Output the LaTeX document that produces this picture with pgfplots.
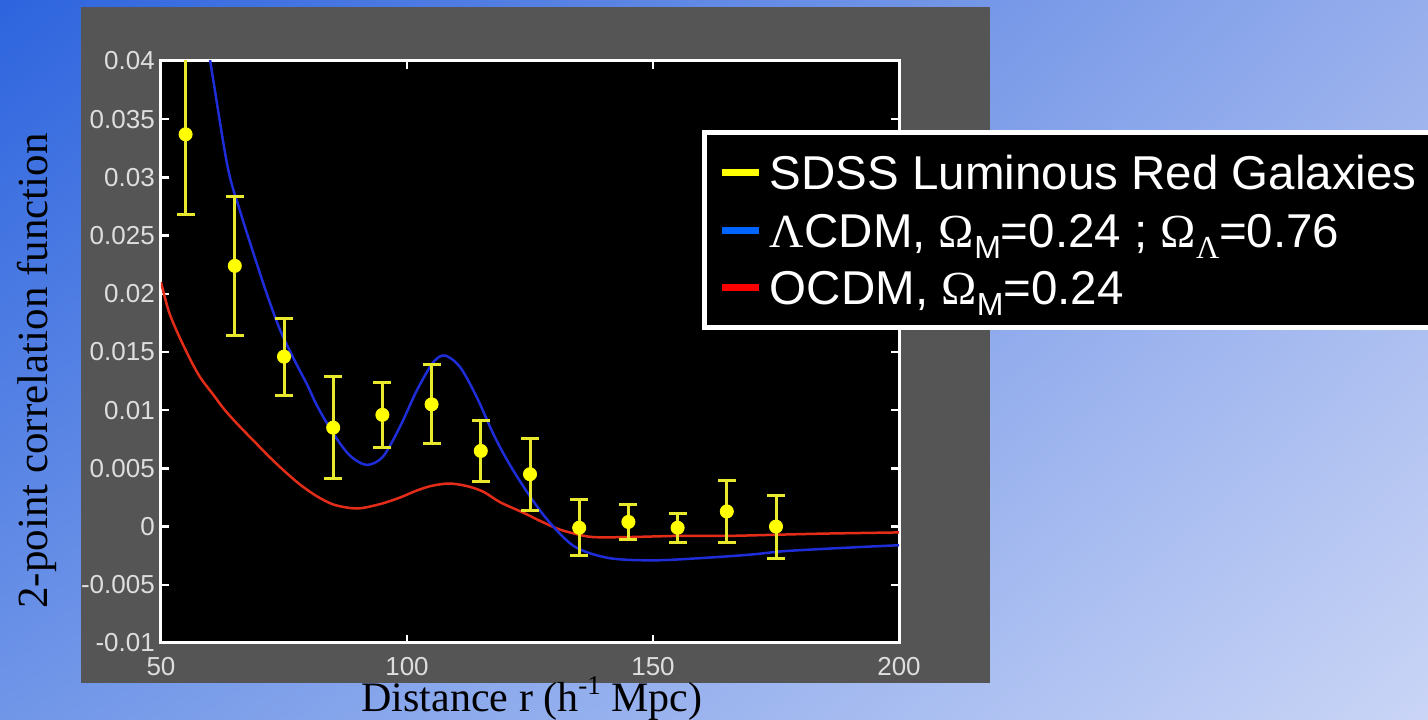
\documentclass[border=0pt]{standalone}
\usepackage{fontspec}
\setmainfont{Liberation Sans}
\newfontfamily\timesfont{Liberation Serif}
\usepackage{graphicx}
\usepackage{pgfplots}
\usepackage{pgfplotstable}
\usetikzlibrary{shadings}
\pgfplotsset{compat=1.18}

\definecolor{bgUL}{RGB}{45,100,222}
\definecolor{bgUR}{RGB}{150,174,236}
\definecolor{bgLL}{RGB}{112,150,232}
\definecolor{bgLR}{RGB}{202,213,246}
\definecolor{panelgray}{RGB}{85,85,85}
\definecolor{tickgray}{RGB}{222,222,222}
\definecolor{barYellow}{RGB}{232,232,45}
\definecolor{dotYellow}{RGB}{255,255,0}
\definecolor{lcdmBlue}{RGB}{30,45,215}
\definecolor{ocdmRed}{RGB}{228,45,25}
\definecolor{legBlue}{RGB}{0,100,255}
\definecolor{legRed}{RGB}{255,0,0}

% SDSS LRG correlation function: separation, xi, 1-sigma error
\pgfplotstableread{
r    xi       err
55   0.0337   0.0069
65   0.0224   0.0060
75   0.0146   0.0033
85   0.0085   0.0044
95   0.0096   0.0028
105  0.0105   0.0034
115  0.0065   0.0026
125  0.0045   0.0031
135  -0.0001  0.0024
145  0.0004   0.0015
155  -0.0001  0.00125
165  0.0013   0.0027
175  0.0000   0.0027
}\lrgdata

% LambdaCDM model, Omega_M = 0.24, Omega_L = 0.76
\pgfplotstableread{
r      xi
50     0.0660
55     0.0530
60     0.0400
63.5   0.0310
66     0.0272
68.7   0.0236
71.5   0.0200
74.2   0.0169
77     0.0144
79.7   0.0122
81.7   0.0104
85     0.0080
88.4   0.0061
91.8   0.0053
95.1   0.0060
98.6   0.0086
102    0.0117
105.3  0.0141
107.7  0.0147
110.8  0.0137
114.2  0.0111
117.5  0.0080
120.5  0.0056
124.2  0.0031
128.5  0.0006
134    -0.0017
141    -0.0027
150    -0.0029
160    -0.0027
170    -0.0024
177    -0.0021
190    -0.0018
200    -0.0016
}\lcdm

% open CDM model, Omega_M = 0.24
\pgfplotstableread{
r      xi
50     0.0210
51.5   0.0186
53.2   0.0168
55.9   0.0144
58     0.0128
60.5   0.0114
63     0.0100
66     0.0086
69     0.0073
72     0.0060
75     0.0048
78.3   0.0036
81.7   0.0026
85     0.0019
88.4   0.0016
91     0.0016
95.1   0.0020
98.6   0.0025
102    0.0031
105    0.0035
108.5  0.0037
112    0.0035
115.5  0.0030
118.9  0.0021
123.6  0.0012
127    0.0005
130.7  -0.0002
134    -0.0006
137.8  -0.0009
145    -0.0009
155    -0.0008
165    -0.0008
175    -0.0007
185    -0.0006
200    -0.0005
}\ocdm

\newcommand{\Gk}[1]{{\timesfont\char"#1}}
\newcommand{\sub}[1]{\raisebox{-11pt}{\fontsize{32}{32}\selectfont #1}}

\begin{document}
\begin{tikzpicture}[x=1pt,y=1pt]
% slide background and figure panel
\shade[upper left=bgUL, upper right=bgUR, lower left=bgLL, lower right=bgLR]
  (0,0) rectangle (1428,720);
\fill[panelgray] (81,37) rectangle (990,713);

\begin{axis}[
  at={(161pt,77pt)}, anchor=south west,
  scale only axis, width=738pt, height=582pt,
  xmin=50, xmax=200, ymin=-0.01, ymax=0.04,
  axis background/.style={fill=black},
  axis line style={white, line width=3pt},
  tick align=inside, major tick length=8pt,
  tick style={white, line width=2.5pt},
  xtick={50,100,150,200},
  ytick={-0.01,-0.005,0,0.005,0.01,0.015,0.02,0.025,0.03,0.035,0.04},
  yticklabels={-0.01,-0.005,0,0.005,0.01,0.015,0.02,0.025,0.03,0.035,0.04},
  xticklabels={50,100,150,200},
  scaled y ticks=false, scaled x ticks=false,
  tick label style={font=\fontsize{26}{26}\selectfont, text=tickgray, inner sep=0pt},
  yticklabel style={xshift=-6pt},
  xticklabel style={yshift=-14pt},
  legend cell align=left,
  legend style={
    at={(axis description cs:0.7337,0.8806)}, anchor=north west,
    fill=black, draw=white, line width=5pt,
    text=white, font=\fontsize{47.5}{47.5}\selectfont,
    inner xsep=14pt, inner ysep=11pt,
    column sep=6pt, row sep=0pt,
    nodes={inner sep=1pt, text height=45pt, text depth=10.5pt},
  },
]
\addlegendimage{legend image code/.code={\draw[dotYellow, line width=7pt] (0pt,0pt) -- (37pt,0pt);}}
\addlegendentry{SDSS Luminous Red Galaxies}
\addlegendimage{legend image code/.code={\draw[legBlue, line width=7pt] (0pt,0pt) -- (37pt,0pt);}}
\addlegendentry{\Gk{039B}CDM, \Gk{03A9}\sub{M}=0.24 ; \Gk{03A9}\sub{\Gk{039B}}=0.76}
\addlegendimage{legend image code/.code={\draw[legRed, line width=7pt] (0pt,0pt) -- (37pt,0pt);}}
\addlegendentry{OCDM, \Gk{03A9}\sub{M}=0.24}

\addplot[forget plot, ocdmRed, line width=2.5pt, smooth, tension=0.5] table[x=r, y=xi] {\ocdm};
\addplot[forget plot, lcdmBlue, line width=2.5pt, smooth, tension=0.5] table[x=r, y=xi] {\lcdm};
\addplot[forget plot, barYellow, only marks, mark=*, mark size=6.5pt,
  mark options={fill=dotYellow, draw=dotYellow, line width=1pt},
  error bars/.cd, y dir=both, y explicit, error mark=|,
  error bar style={barYellow, line width=3pt},
  error mark options={barYellow, line width=3pt, mark size=9pt}]
  table[x=r, y=xi, y error=err] {\lrgdata};
\end{axis}

% axis titles
\node[rotate=90, anchor=base, font=\timesfont\fontsize{43}{43}\selectfont, text=black]
  at (47,349) {2-point correlation function};
\node[anchor=base, font=\timesfont\fontsize{42}{42}\selectfont, text=black]
  at (532,8) {Distance r (h\raisebox{0.42em}{\fontsize{27}{27}\selectfont -1} Mpc)};

\pgfresetboundingbox
\useasboundingbox (0,0) rectangle (1428,720);
\end{tikzpicture}
\end{document}
